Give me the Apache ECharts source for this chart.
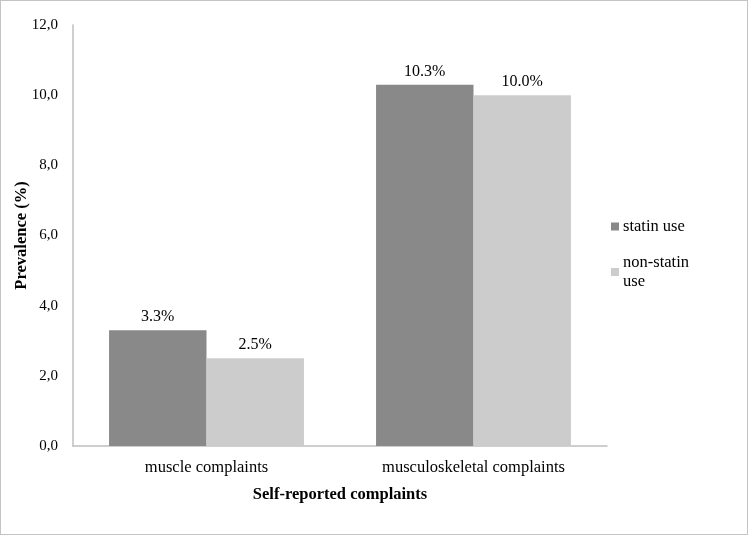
<!DOCTYPE html>
<html>
<head>
<meta charset="utf-8">
<script src="https://cdn.jsdelivr.net/npm/echarts@6/dist/echarts.min.js"></script>
<style>
  html, body { margin: 0; padding: 0; background: #fff; }
  #chart { width: 746px; height: 533px; border: 1px solid #c4c4c4; }
</style>
</head>
<body>
<div id="chart"></div>
<script>
  // categories and values
  var categories = ['muscle complaints', 'musculoskeletal complaints'];
  var statinUse = [3.3, 10.3];
  var nonStatinUse = [2.5, 10.0];
  var yTicks = [0, 2, 4, 6, 8, 10, 12];

  var serif = '"Liberation Serif", "Times New Roman", serif';
  var fs = 16.5;
  var myChart = echarts.init(document.getElementById('chart'));

  var option = {
    animation: false,
    textStyle: { fontFamily: serif },
    legend: {
      orient: 'vertical',
      left: 605,
      top: 211,
      icon: 'rect',
      itemWidth: 8,
      itemHeight: 8,
      itemGap: 17,
      textStyle: { fontFamily: serif, fontSize: fs, color: '#000', lineHeight: 19, padding: [0, 0, 0, -1] },
      data: [
        { name: 'statin use' },
        { name: 'non-statin\nuse' }
      ]
    },
    grid: { left: 72, right: 140, top: 24, bottom: 88, outerBoundsMode: 'none', containLabel: false },
    xAxis: {
      type: 'category',
      data: categories,
      name: 'Self-reported complaints',
      nameLocation: 'middle',
      nameGap: 40,
      nameMoveOverlap: false,
      nameTextStyle: { fontFamily: serif, fontSize: fs, fontWeight: 'bold', color: '#000' },
      axisLine: { lineStyle: { color: '#bfbfbf', width: 1.5 } },
      axisTick: { show: false },
      axisLabel: { fontFamily: serif, fontSize: fs, color: '#000', margin: 13 }
    },
    yAxis: {
      type: 'value',
      min: yTicks[0],
      max: yTicks[yTicks.length - 1],
      interval: 2,
      name: 'Prevalence (%)',
      nameLocation: 'middle',
      nameGap: 43,
      nameMoveOverlap: false,
      nameTextStyle: { fontFamily: serif, fontSize: fs, fontWeight: 'bold', color: '#000' },
      axisLine: { show: true, lineStyle: { color: '#bfbfbf', width: 1.5 } },
      axisTick: { show: false },
      splitLine: { show: false },
      axisLabel: {
        fontFamily: serif, fontSize: 15, color: '#000', margin: 15,
        formatter: function (v) { return v.toFixed(1).replace('.', ','); }
      }
    },
    series: [
      {
        name: 'statin use',
        type: 'bar',
        data: statinUse,
        barGap: '0%',
        barCategoryGap: '27%',
        itemStyle: { color: '#898989' },
        label: {
          show: true, position: 'top', distance: 5,
          fontFamily: serif, fontSize: 16, color: '#000',
          formatter: function (p) { return p.value.toFixed(1) + '%'; }
        }
      },
      {
        name: 'non-statin\nuse',
        type: 'bar',
        data: nonStatinUse,
        itemStyle: { color: '#cccccc' },
        label: {
          show: true, position: 'top', distance: 5,
          fontFamily: serif, fontSize: 16, color: '#000',
          formatter: function (p) { return p.value.toFixed(1) + '%'; }
        }
      }
    ]
  };

  myChart.setOption(option);
</script>
</body>
</html>
